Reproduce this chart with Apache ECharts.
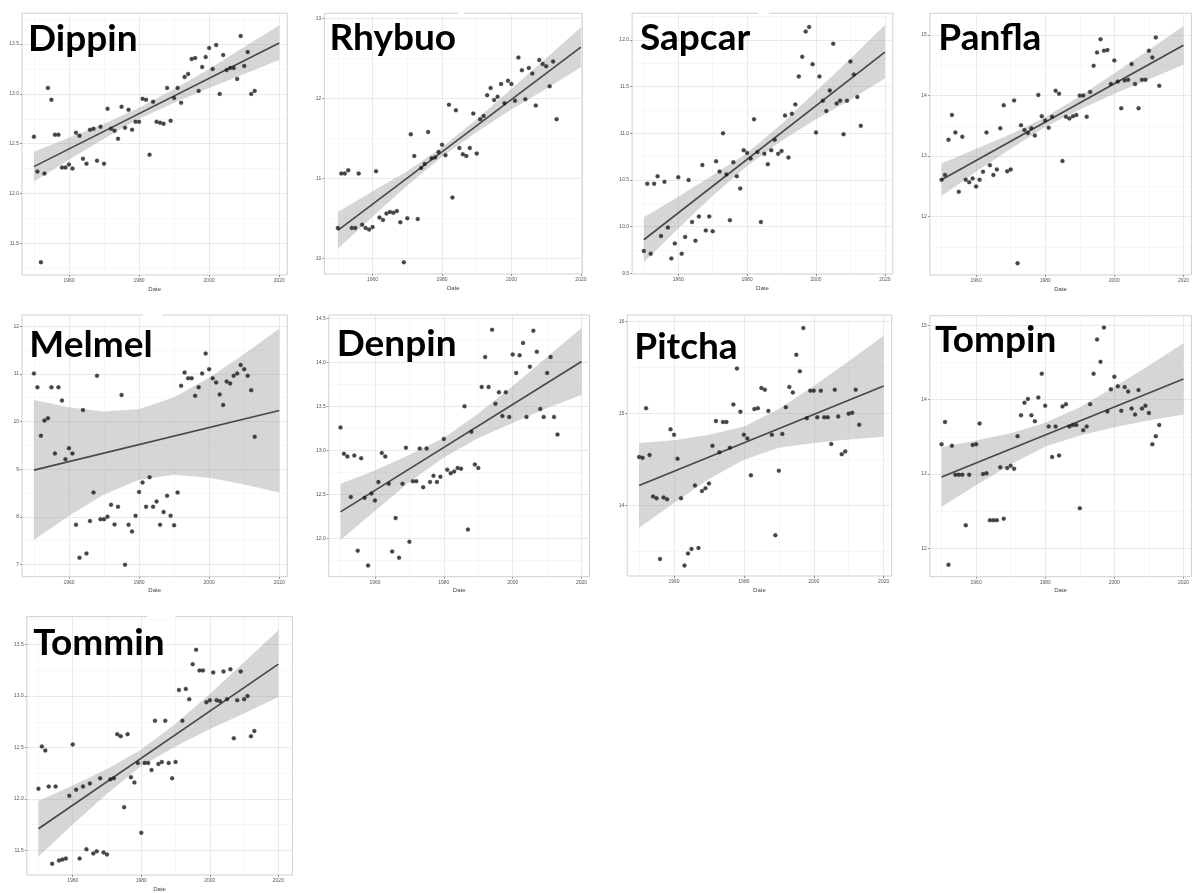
<!DOCTYPE html>
<html><head><meta charset="utf-8">
<script src="https://cdn.jsdelivr.net/npm/echarts@6/dist/echarts.min.js"></script>
<style>html,body{margin:0;padding:0;background:#fff}#c{width:1192px;height:893px}</style>
</head><body><div id="c"></div>
<script>
// ---- shared x values (one observation per year) ----
const years = [1950,1951,1952,1953,1954,1955,1956,1957,1958,1959,
  1960,1961,1962,1963,1964,1965,1966,1967,1968,1969,
  1970,1971,1972,1973,1974,1975,1976,1977,1978,1979,
  1980,1981,1982,1983,1984,1985,1986,1987,1988,1989,
  1990,1991,1992,1993,1994,1995,1996,1997,1998,1999,
  2000,2001,2002,2003,2004,2005,2006,2007,2008,2009,
  2010,2011,2012,2013];
const fitYears = [1950, 2020];
const bandYears = [1950,1960,1970,1980,1990,2000,2010,2020];
const xTicks = [1960,1980,2000,2020];
const xMinor = [1950,1970,1990,2010];
const xTitle = 'Date';

// ---- Dippin ----
const dippinValues = [12.57,12.22,11.31,12.20,13.06,12.94,12.59,12.59,12.26,12.26,
  12.29,12.25,12.61,12.58,12.35,12.30,12.64,12.65,12.33,12.67,
  12.30,12.85,12.65,12.63,12.55,12.87,12.66,12.84,12.64,12.72,
  12.72,12.95,12.94,12.39,12.92,12.72,12.71,12.70,13.06,12.73,
  12.96,13.06,12.91,13.17,13.20,13.35,13.36,13.03,13.27,13.37,
  13.46,13.25,13.49,13.00,13.39,13.24,13.26,13.26,13.15,13.58,
  13.28,13.42,13.00,13.03];
const dippinFit = [12.27, 13.51];
const dippinLow = [12.12,12.34,12.55,12.75,12.91,13.06,13.20,13.34];
const dippinHigh = [12.42,12.56,12.70,12.86,13.05,13.25,13.47,13.69];
const dippinTicks = [11.5,12.0,12.5,13.0,13.5];

// ---- Rhybuo ----
const rhybuoValues = [10.38,11.06,11.06,11.10,10.38,10.38,11.06,10.42,10.38,10.36,
  10.39,11.09,10.51,10.48,10.56,10.58,10.57,10.59,10.45,9.95,
  10.50,11.55,11.28,10.49,11.13,11.18,11.58,11.25,11.26,11.33,
  11.42,11.29,11.92,10.76,11.85,11.38,11.30,11.28,11.38,11.81,
  11.31,11.74,11.78,12.04,12.13,11.98,12.02,12.18,11.94,12.22,
  12.18,11.97,12.51,12.35,11.99,12.38,12.31,11.91,12.48,12.43,
  12.40,12.15,12.46,11.74];
const rhybuoFit = [10.35, 12.64];
const rhybuoLow = [10.12,10.52,10.91,11.27,11.58,11.86,12.12,12.39];
const rhybuoHigh = [10.58,10.84,11.09,11.39,11.74,12.12,12.50,12.89];
const rhybuoTicks = [10,11,12,13];

// ---- Sapcar ----
const sapcarValues = [9.74,10.46,9.71,10.46,10.54,9.90,10.48,9.99,9.66,9.82,
  10.53,9.71,9.89,10.50,10.05,9.85,10.11,10.66,9.96,10.11,
  9.95,10.70,10.59,11.00,10.56,10.07,10.69,10.54,10.41,10.82,
  10.79,10.73,11.15,10.80,10.05,10.78,10.67,10.82,10.93,10.78,
  10.81,11.19,10.74,11.21,11.31,11.61,11.82,12.09,12.14,11.74,
  11.01,11.61,11.35,11.24,11.46,11.96,11.32,11.35,10.99,11.35,
  11.77,11.63,11.39,11.08];
const sapcarFit = [9.86, 11.87];
const sapcarLow = [9.62,9.98,10.33,10.65,10.92,11.15,11.36,11.59];
const sapcarHigh = [10.10,10.32,10.55,10.79,11.10,11.45,11.80,12.16];
const sapcarTicks = [9.5,10.0,10.5,11.0,11.5,12.0];

// ---- Panfla ----
const panflaValues = [12.61,12.69,13.27,13.68,13.39,12.41,13.32,12.61,12.57,12.63,
  12.50,12.61,12.74,13.39,12.85,12.69,12.78,13.46,13.84,12.75,
  12.78,13.92,11.23,13.51,13.43,13.38,13.46,13.34,14.01,13.66,
  13.59,13.47,13.65,14.08,14.03,12.92,13.65,13.62,13.66,13.68,
  14.00,14.00,13.65,14.06,14.49,14.71,14.93,14.74,14.75,14.19,
  14.58,14.23,13.79,14.25,14.26,14.52,14.19,13.79,14.26,14.26,
  14.74,14.63,14.96,14.16];
const panflaFit = [12.61, 14.83];
const panflaLow = [12.34,12.74,13.12,13.48,13.77,14.03,14.27,14.51];
const panflaHigh = [12.88,13.12,13.36,13.64,13.99,14.37,14.75,15.15];
const panflaTicks = [12,13,14,15];

// ---- Melmel ----
const melmelValues = [11.01,10.72,9.70,10.02,10.07,10.72,9.33,10.72,10.44,9.21,
  9.44,9.33,7.83,7.14,10.24,7.23,7.91,8.51,10.96,7.95,
  7.95,8.00,8.25,7.84,8.21,10.56,6.99,7.83,7.69,8.02,
  8.52,8.72,8.21,8.83,8.21,8.32,7.83,8.10,8.44,8.02,
  7.82,8.51,10.75,11.03,10.91,10.91,10.54,10.72,11.01,11.43,
  11.10,10.91,10.82,10.57,10.35,10.84,10.80,10.96,11.01,11.19,
  11.10,10.96,10.66,9.68];
const melmelFit = [8.98, 10.23];
const melmelLow = [7.51,8.02,8.47,8.78,8.88,8.82,8.68,8.51];
const melmelHigh = [10.45,10.30,10.21,10.26,10.51,10.92,11.42,11.95];
const melmelTicks = [7,8,9,10,11,12];

// ---- Denpin ----
const denpinValues = [13.26,12.96,12.93,12.47,12.94,11.86,12.91,12.46,11.69,12.51,
  12.43,12.64,12.97,12.93,12.62,11.85,12.23,11.78,12.62,13.03,
  11.96,12.65,12.65,13.02,12.58,13.02,12.64,12.71,12.64,12.70,
  13.13,12.78,12.74,12.76,12.80,12.79,13.50,12.10,13.21,12.84,
  12.80,13.72,14.06,13.72,14.37,13.53,13.66,13.39,13.66,13.38,
  14.09,13.88,14.08,14.22,13.38,13.95,14.36,14.12,13.47,13.38,
  13.88,14.06,13.38,13.18];
const denpinFit = [12.30, 14.01];
const denpinLow = [11.98,12.31,12.64,12.92,13.14,13.31,13.48,13.63];
const denpinHigh = [12.62,12.77,12.95,13.14,13.42,13.73,14.06,14.39];
const denpinTicks = [12.0,12.5,13.0,13.5,14.0,14.5];

// ---- Pitcha ----
const pitchaValues = [14.53,14.52,15.06,14.55,14.10,14.08,13.42,14.09,14.07,14.83,
  14.77,14.51,14.08,13.35,13.48,13.53,14.22,13.54,14.16,14.19,
  14.24,14.65,14.92,14.58,14.91,14.91,14.63,15.10,15.49,15.02,
  14.77,14.73,14.33,15.05,15.06,15.28,15.26,15.03,14.77,13.68,
  14.38,14.78,15.07,15.29,15.23,15.64,15.46,15.93,14.95,15.25,
  15.25,14.96,15.25,14.96,14.96,14.67,15.26,14.97,14.56,14.59,
  15.00,15.01,15.26,14.88];
const pitchaFit = [14.22, 15.30];
const pitchaLow = [13.76,14.03,14.29,14.50,14.63,14.68,14.72,14.75];
const pitchaHigh = [14.68,14.71,14.77,14.86,15.05,15.30,15.57,15.85];
const pitchaTicks = [14,15,16];

// ---- Tompin ----
const tompinValues = [13.40,13.70,11.78,13.38,12.99,12.99,12.99,12.31,12.99,13.39,
  13.40,13.68,13.00,13.01,12.38,12.38,12.38,13.09,12.40,13.08,
  13.11,13.07,13.51,13.79,13.96,14.01,13.79,13.71,14.03,14.35,
  13.92,13.64,13.23,13.64,13.25,13.91,13.94,13.64,13.66,13.66,
  12.54,13.59,13.64,13.94,14.35,14.81,14.51,14.97,13.84,14.14,
  14.31,14.18,13.85,14.17,14.11,13.88,13.80,14.13,13.88,13.92,
  13.82,13.40,13.51,13.66];
const tompinFit = [12.96, 14.28];
const tompinLow = [12.56,12.85,13.13,13.37,13.52,13.63,13.72,13.80];
const tompinHigh = [13.36,13.45,13.55,13.69,13.90,14.17,14.46,14.76];
const tompinTicks = [12,13,14,15];

// ---- Tommin ----
const tomminValues = [12.10,12.51,12.47,12.12,11.37,12.12,11.40,11.41,11.42,12.03,
  12.53,12.09,11.42,12.12,11.51,12.15,11.47,11.49,12.20,11.48,
  11.46,12.19,12.20,12.63,12.61,11.92,12.63,12.21,12.16,12.35,
  11.67,12.35,12.35,12.28,12.76,12.34,12.36,12.76,12.35,12.20,
  12.36,13.06,12.76,13.07,12.97,13.31,13.45,13.25,13.25,12.94,
  12.96,13.23,12.96,12.95,13.24,12.97,13.26,12.59,12.96,13.24,
  12.97,13.00,12.61,12.66];
const tomminFit = [11.71, 13.31];
const tomminLow = [11.44,11.75,12.05,12.32,12.51,12.68,12.83,12.99];
const tomminHigh = [11.98,12.13,12.29,12.48,12.73,13.02,13.33,13.64];
const tomminTicks = [11.5,12.0,12.5,13.0,13.5];

// ---- layout (positions / ranges) ----
const panels = [
  {name:'Dippin', v:dippinValues, fit:dippinFit, lo:dippinLow, hi:dippinHigh, t:dippinTicks, dec:1,
   box:[22,13.3,265.3,261.7], xr:[1946.6,2022.3], yr:[11.182,13.809], tp:[28,50.5]},
  {name:'Rhybuo', v:rhybuoValues, fit:rhybuoFit, lo:rhybuoLow, hi:rhybuoHigh, t:rhybuoTicks, dec:0,
   box:[324.3,13.3,258,260.7], xr:[1946.1,2020.4], yr:[9.804,13.063], tp:[329.5,50]},
  {name:'Sapcar', v:sapcarValues, fit:sapcarFit, lo:sapcarLow, hi:sapcarHigh, t:sapcarTicks, dec:1,
   box:[632.1,13.3,260.7,260.7], xr:[1946.6,2022.3], yr:[9.493,12.286], tp:[640,50]},
  {name:'Panfla', v:panflaValues, fit:panflaFit, lo:panflaLow, hi:panflaHigh, t:panflaTicks, dec:0,
   box:[929.8,13.3,265,261.7], xr:[1946.6,2022.3], yr:[11.037,15.358], tp:[938.3,49.5]},
  {name:'Melmel', v:melmelValues, fit:melmelFit, lo:melmelLow, hi:melmelHigh, t:melmelTicks, dec:0,
   box:[22,315,265.3,261.7], xr:[1946.6,2022.3], yr:[6.741,12.238], tp:[29.3,357]},
  {name:'Denpin', v:denpinValues, fit:denpinFit, lo:denpinLow, hi:denpinHigh, t:denpinTicks, dec:1,
   box:[328.8,315,260.7,261.7], xr:[1946.6,2022.3], yr:[11.564,14.538], tp:[336.7,356]},
  {name:'Pitcha', v:pitchaValues, fit:pitchaFit, lo:pitchaLow, hi:pitchaHigh, t:pitchaTicks, dec:0,
   box:[627.2,315,264.5,261], xr:[1946.6,2022.3], yr:[13.236,16.072], tp:[634.3,359]},
  {name:'Tompin', v:tompinValues, fit:tompinFit, lo:tompinLow, hi:tompinHigh, t:tompinTicks, dec:0,
   box:[929.8,315.7,265,261], xr:[1946.6,2022.3], yr:[11.619,15.130], tp:[935,352]},
  {name:'Tommin', v:tomminValues, fit:tomminFit, lo:tomminLow, hi:tomminHigh, t:tomminTicks, dec:1,
   box:[26.8,616.7,265.6,261.6], xr:[1946.6,2024.1], yr:[11.26,13.772], tp:[33.3,655]}
];
const borderGaps = [[458,11,6,4],[758,11,11,4],[143,313,19,4],[147,614.5,28,4]];

const grid=[], xAxis=[], yAxis=[], series=[], graphic=[];
const TITLE_SIZE = 37;
panels.forEach((p,i)=>{
  grid.push({left:p.box[0], top:p.box[1], width:p.box[2], height:p.box[3], show:true,
    borderColor:'#cfcfcf', borderWidth:1, backgroundColor:'#fff'});
  xAxis.push({type:'value', gridIndex:i, min:p.xr[0], max:p.xr[1],
    splitLine:{show:false}, axisLine:{show:false},
    axisTick:{show:true, customValues:xTicks, length:2, lineStyle:{color:'#777', width:0.8}},
    axisLabel:{customValues:xTicks, fontSize:5, color:'#555', margin:3, fontFamily:'Liberation Sans',
      formatter:(val)=>String(Math.round(val))},
    name:xTitle, nameLocation:'middle', nameGap:11,
    nameTextStyle:{fontSize:6, color:'#444', fontFamily:'Liberation Sans'}});
  yAxis.push({type:'value', gridIndex:i, min:p.yr[0], max:p.yr[1],
    splitLine:{show:false}, axisLine:{show:false},
    axisTick:{show:true, customValues:p.t, length:2, lineStyle:{color:'#777', width:0.8}},
    axisLabel:{customValues:p.t, fontSize:5, color:'#555', margin:3, fontFamily:'Liberation Sans',
      formatter:(val)=>Number(val).toFixed(p.dec)}});
  // background grid lines
  const gl=[];
  xTicks.forEach(v=>gl.push({xAxis:v, lineStyle:{color:'#e4e4e4', width:0.8, type:'solid'}}));
  xMinor.forEach(v=>gl.push({xAxis:v, lineStyle:{color:'#f1f1f1', width:0.6, type:'solid'}}));
  const step = p.t[1]-p.t[0];
  p.t.forEach(v=>gl.push({yAxis:v, lineStyle:{color:'#e4e4e4', width:0.8, type:'solid'}}));
  const mins = [p.t[0]-step/2].concat(p.t.map(v=>v+step/2));
  mins.forEach(v=>{ if(v>p.yr[0] && v<p.yr[1]) gl.push({yAxis:v, lineStyle:{color:'#f1f1f1', width:0.6, type:'solid'}}); });
  series.push({type:'line', xAxisIndex:i, yAxisIndex:i, data:[[fitYears[0], p.fit[0]]],
    symbol:'none', lineStyle:{opacity:0}, z:1, silent:true, animation:false,
    markLine:{z:1, silent:true, symbol:'none', label:{show:false}, animation:false, data:gl}});
  // confidence band: polygon through the read upper and lower bounds
  series.push({type:'custom', xAxisIndex:i, yAxisIndex:i, z:2, silent:true, animation:false,
    data:[[bandYears[0], p.lo[0]]],
    renderItem:(params, api)=>{
      const pts=[];
      bandYears.forEach((y,k)=>pts.push(api.coord([y,p.hi[k]])));
      for(let k=bandYears.length-1;k>=0;k--) pts.push(api.coord([bandYears[k],p.lo[k]]));
      return {type:'polygon', shape:{points:pts}, style:{fill:'rgba(153,153,153,0.4)'}};
    }});
  // fitted line
  series.push({type:'line', xAxisIndex:i, yAxisIndex:i,
    data:fitYears.map((y,k)=>[y,p.fit[k]]), symbol:'none',
    lineStyle:{color:'#474747', width:1.6}, z:3, silent:true, animation:false});
  // points
  series.push({type:'scatter', xAxisIndex:i, yAxisIndex:i,
    data:years.map((y,k)=>[y,p.v[k]]), symbolSize:4,
    itemStyle:{color:'#161616', borderColor:'#444', borderWidth:0.4}, z:4, animation:false});
  graphic.push({type:'text', x:p.tp[0], y:p.tp[1]-0.32*TITLE_SIZE, z:100,
    style:{text:p.name, font:'bold '+TITLE_SIZE+'px Lato', fill:'#000',
      align:'left', verticalAlign:'middle', textAlign:'left', textVerticalAlign:'middle'}});
});
borderGaps.forEach(g=>graphic.push({type:'rect', shape:{x:g[0], y:g[1], width:g[2], height:g[3]},
  style:{fill:'#fff'}, z:90}));

const chart = echarts.init(document.getElementById('c'), null, {renderer:'canvas'});
chart.setOption({animation:false, backgroundColor:'#fff', grid, xAxis, yAxis, series, graphic});
</script>
</body></html>
